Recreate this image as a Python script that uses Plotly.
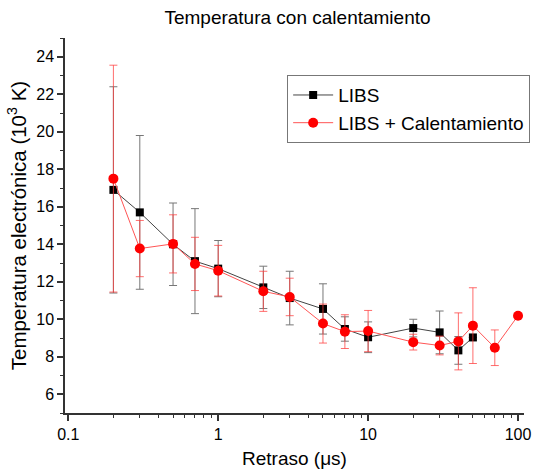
import plotly.graph_objects as go
import math

# Delay times (µs) and electron temperatures (10^3 K)
delay_libs = [0.2, 0.3, 0.5, 0.7, 1, 2, 3, 5, 7, 10, 20, 30, 40, 50]
temp_libs = [16.9, 15.7, 14.0, 13.1, 12.7, 11.7, 11.13, 10.55, 9.48, 9.04, 9.53, 9.3, 8.34, 9.03]
err_libs = [5.5, 4.1, 2.2, 2.8, 1.5, 1.13, 1.43, 1.34, 0.65, 0.82, 0.47, 1.14, 0.74, 0]

delay_heat = [0.2, 0.3, 0.5, 0.7, 1, 2, 3, 5, 7, 10, 20, 30, 40, 50, 70, 100]
temp_heat = [17.5, 13.77, 14.02, 12.95, 12.59, 11.49, 11.19, 9.77, 9.34, 9.37, 8.78, 8.6, 8.82, 9.66, 8.48, 10.19]
err_heat = [6.05, 1.5, 1.55, 1.42, 1.35, 1.07, 1.0, 1.04, 0.9, 1.1, 0.42, 0.5, 1.52, 2.02, 0.95, 0]

y_ticks = [6, 8, 10, 12, 14, 16, 18, 20, 22, 24]
x_ticks = [0.1, 1, 10, 100]
x_ticklabels = ["0.1", "1", "10", "100"]

FONT = "Liberation Sans, Arial, sans-serif"

fig = go.Figure()

fig.add_trace(go.Scatter(
    x=delay_libs, y=temp_libs, name="LIBS", mode="lines+markers",
    line=dict(color="#444444", width=1),
    marker=dict(symbol="square", size=8, color="black"),
    error_y=dict(type="data", array=err_libs, visible=True,
                 color="#777777", thickness=1, width=4),
))

fig.add_trace(go.Scatter(
    x=delay_heat, y=temp_heat, name="LIBS + Calentamiento", mode="lines+markers",
    line=dict(color="#ff5555", width=1),
    marker=dict(symbol="circle", size=10, color="#ff0000"),
    error_y=dict(type="data", array=err_heat, visible=True,
                 color="rgba(255,60,60,0.75)", thickness=1, width=4),
))

fig.update_layout(
    width=538, height=474,
    margin=dict(l=65, r=8, t=38, b=61),
    paper_bgcolor="white", plot_bgcolor="white",
    font=dict(family=FONT, color="black"),
    title=dict(text="Temperatura con calentamiento", x=0.553, xanchor="center",
               y=0.964, yanchor="middle", font=dict(size=19)),
    showlegend=True,
    legend=dict(x=0.484, y=0.901, xanchor="left", yanchor="top",
                bordercolor="#777777", borderwidth=1, bgcolor="white",
                font=dict(size=19), tracegroupgap=0, itemwidth=40),
)

fig.update_xaxes(
    type="log", range=[math.log10(0.0951), math.log10(109.6)],
    tickvals=x_ticks, ticktext=x_ticklabels,
    ticks="outside", ticklen=6, tickwidth=1.5, tickcolor="#333333",
    showline=True, linecolor="#333333", linewidth=1.5,
    showgrid=False, zeroline=False,
    tickfont=dict(size=16),
    minor=dict(ticks="outside", ticklen=3, tickwidth=1.2, tickcolor="#333333",
               dtick="D1", showgrid=False),
    title=dict(text="Retraso (\u03bcs)", font=dict(size=19), standoff=10),
)

fig.update_yaxes(
    range=[5, 25], tickvals=y_ticks,
    ticks="outside", ticklen=6, tickwidth=1.5, tickcolor="#333333",
    showline=True, linecolor="#333333", linewidth=1.5,
    showgrid=False, zeroline=False,
    tickfont=dict(size=16),
    minor=dict(ticks="outside", ticklen=3, tickwidth=1.2, tickcolor="#333333",
               tick0=5, dtick=2, showgrid=False),
    title=dict(text="Temperatura electrónica (10<sup>3</sup> K)", font=dict(size=20.5), standoff=4),
)

fig.write_html("out.html")
